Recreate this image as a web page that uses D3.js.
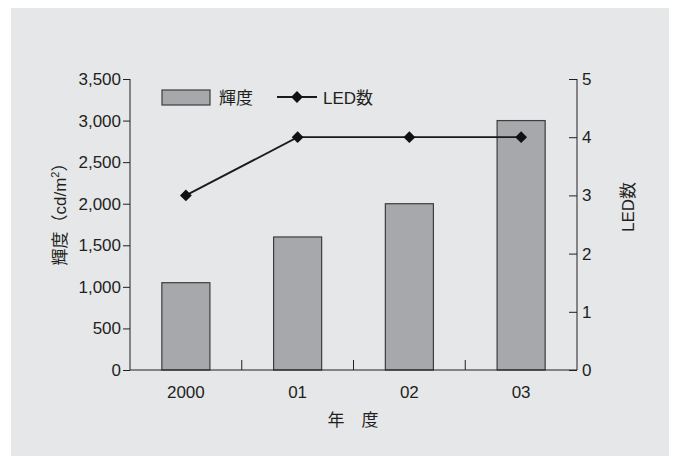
<!DOCTYPE html>
<html>
<head>
<meta charset="utf-8">
<script src="https://cdn.jsdelivr.net/npm/d3@7"></script>
<style>
  html, body { margin: 0; padding: 0; background: #ffffff; }
  svg { display: block; }
  text { font-family: "Liberation Sans", Arial, "Noto Sans CJK JP", sans-serif; fill: #231f20; }
</style>
</head>
<body>
<svg id="chart" width="675" height="456"></svg>
<script>
// Fiscal years, luminance (cd/m²) and LED count per year
const years = ["2000", "01", "02", "03"];
const luminance = [1050, 1600, 2000, 3000];
const ledCount = [3, 4, 4, 4];
const leftTicks = [0, 500, 1000, 1500, 2000, 2500, 3000, 3500];
const rightTicks = [0, 1, 2, 3, 4, 5];

const svg = d3.select("#chart");
const W = 675, H = 456;
const m = { left: 130, right: 98, top: 79, bottom: 86 };
const x0 = m.left, x1 = W - m.right, y0 = H - m.bottom, y1 = m.top;
const font = '"Liberation Sans", Arial, "Noto Sans CJK JP", sans-serif';
const fs = "17px";
const ink = "#231f20";

// panel background
svg.append("rect").attr("x", 11).attr("y", 8).attr("width", 658).attr("height", 448)
  .attr("fill", "#e6e7e9");

const x = d3.scaleBand().domain(years).range([x0, x1]).paddingInner(0.57).paddingOuter(0.285);
const xb = d3.scaleBand().domain(years).range([x0, x1]);
const yL = d3.scaleLinear().domain([0, 3500]).range([y0, y1]);
const yR = d3.scaleLinear().domain([0, 5]).range([y0, y1]);

// bars
svg.append("g").selectAll("rect").data(years).join("rect")
  .attr("x", d => x(d)).attr("width", x.bandwidth())
  .attr("y", (d, i) => yL(luminance[i])).attr("height", (d, i) => y0 - yL(luminance[i]))
  .attr("fill", "#a7a8ab").attr("stroke", "#3d3d3d").attr("stroke-width", 1.2);

// left axis
const gL = svg.append("g").attr("transform", `translate(${x0},0)`)
  .call(d3.axisLeft(yL).tickValues(leftTicks).tickFormat(d3.format(",")).tickSize(7).tickPadding(2));
gL.selectAll("path, line").attr("stroke", ink).attr("stroke-width", 1);
gL.select(".domain").attr("d", `M0,${y1}V${y0}`);
gL.selectAll("text").style("font-family", font).style("font-size", fs).attr("fill", ink);

// right axis (ticks pointing inward)
const gR = svg.append("g").attr("transform", `translate(${x1},0)`)
  .call(d3.axisRight(yR).tickValues(rightTicks).tickFormat(d3.format("d")).tickSize(-8).tickPadding(6));
gR.selectAll("path, line").attr("stroke", ink).attr("stroke-width", 1);
gR.select(".domain").attr("d", `M0,${y1}V${y0}`);
gR.selectAll("text").style("font-family", font).style("font-size", fs).attr("fill", ink)
  .attr("x", 5);

// bottom axis with ticks between categories, pointing up
svg.append("line").attr("x1", x0).attr("x2", x1).attr("y1", y0).attr("y2", y0)
  .attr("stroke", ink).attr("stroke-width", 1);
svg.append("g").selectAll("line").data(years.slice(1)).join("line")
  .attr("x1", d => xb(d)).attr("x2", d => xb(d)).attr("y1", y0).attr("y2", y0 - 10)
  .attr("stroke", ink).attr("stroke-width", 1);
svg.append("g").selectAll("text").data(years).join("text")
  .attr("x", d => xb(d) + xb.bandwidth() / 2).attr("y", y0 + 28)
  .attr("text-anchor", "middle").style("font-size", fs).style("font-family", font)
  .text(d => d);

// LED count line
const line = d3.line().x((d, i) => xb(years[i]) + xb.bandwidth() / 2).y(d => yR(d));
svg.append("path").datum(ledCount).attr("d", line)
  .attr("fill", "none").attr("stroke", "#1a1a1a").attr("stroke-width", 1.8);
svg.append("g").selectAll("path").data(ledCount).join("path")
  .attr("transform", (d, i) => `translate(${xb(years[i]) + xb.bandwidth() / 2},${yR(d)}) rotate(45)`)
  .attr("d", d3.symbol().type(d3.symbolSquare).size(70))
  .attr("fill", "#111");

// axis titles
const yt = svg.append("text").attr("transform", `translate(66,210) rotate(-90)`)
  .attr("text-anchor", "middle").style("font-size", fs).style("font-family", font);
yt.append("tspan").text("輝度（cd/m");
yt.append("tspan").attr("dy", -7).style("font-size", "11px").text("2");
yt.append("tspan").attr("dy", 7).text("）");
svg.append("text").attr("transform", `translate(634,207) rotate(-90)`)
  .attr("text-anchor", "middle").style("font-size", fs).style("font-family", font)
  .text("LED数");
svg.append("text").attr("x", 353).attr("y", 426)
  .attr("text-anchor", "middle").style("font-size", fs).style("font-family", font)
  .text("年　度");

// legend
const lg = svg.append("g");
lg.append("rect").attr("x", 162).attr("y", 90).attr("width", 48).attr("height", 15)
  .attr("fill", "#a7a8ab").attr("stroke", "#3d3d3d").attr("stroke-width", 1.2);
lg.append("text").attr("x", 219).attr("y", 104).style("font-size", fs).style("font-family", font)
  .text("輝度");
lg.append("line").attr("x1", 277).attr("x2", 317).attr("y1", 97).attr("y2", 97)
  .attr("stroke", "#1a1a1a").attr("stroke-width", 1.8);
lg.append("path").attr("transform", "translate(297,97) rotate(45)")
  .attr("d", d3.symbol().type(d3.symbolSquare).size(70)).attr("fill", "#111");
lg.append("text").attr("x", 323).attr("y", 104).style("font-size", fs).style("font-family", font)
  .text("LED数");
</script>
</body>
</html>
